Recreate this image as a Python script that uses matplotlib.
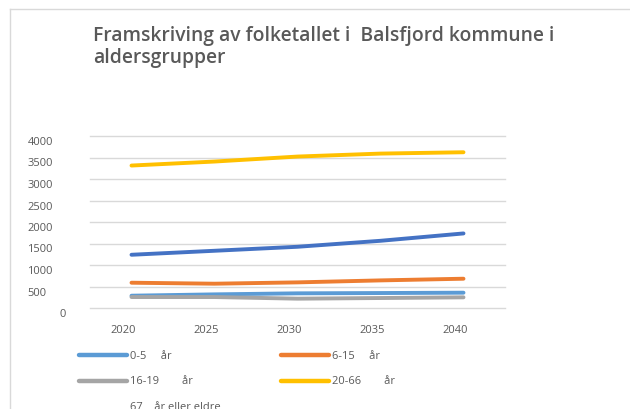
import matplotlib
matplotlib.use("Agg")
import matplotlib.pyplot as plt
from matplotlib.transforms import ScaledTranslation
from matplotlib.lines import Line2D

# data
years = ["2020", "2025", "2030", "2035", "2040"]
age_0_5 = [286, 317, 341, 348, 356]
age_6_15 = [588, 565, 596, 642, 681]
age_16_19 = [255, 255, 217, 232, 248]
age_20_66 = [3313, 3406, 3522, 3591, 3622]
age_67_plus = [1238, 1331, 1424, 1563, 1734]

labels = ["0-5     år", "6-15     år", "16-19        år", "20-66        år", "67    år eller eldre"]
colors = ["#5B9BD5", "#ED7D31", "#A5A5A5", "#FFC000", "#4472C4"]
series = [age_0_5, age_6_15, age_16_19, age_20_66, age_67_plus]

txt = "#595959"
plt.rcParams['font.family'] = ['Open Sans', 'DejaVu Sans']

fig = plt.figure(figsize=(6.3, 4.09), dpi=100)
ax = fig.add_axes([90/630, 1-308/409, 415/630, 172/409])

x = range(len(years))
for vals, c in zip(series, colors):
    ax.plot(x, vals, color=c, lw=2.8, solid_capstyle='round')

ax.set_xlim(-0.5, len(years)-0.5)
ax.set_ylim(0, 4000)
ax.set_yticks(range(0, 4001, 500))
ax.set_xticks(list(x))
ax.set_xticklabels(years)
ax.grid(axis='y', color='#D9D9D9', lw=1)
ax.set_axisbelow(True)
for g in ax.get_ygridlines():
    g.set_clip_on(False)
for s in ax.spines.values():
    s.set_visible(False)
ax.tick_params(length=0, colors=txt, labelsize=8)
ax.tick_params(axis='x', pad=12)
ax.tick_params(axis='y', pad=45)
for lbl in ax.get_yticklabels():
    lbl.set_horizontalalignment('left')
    dx = 32/100 if lbl.get_text() == "0" else 0
    lbl.set_transform(lbl.get_transform() + ScaledTranslation(dx, -5/100, fig.dpi_scale_trans))
# category labels sit a little left of the data points, as in the source
for lbl in ax.get_xticklabels():
    lbl.set_transform(lbl.get_transform() + ScaledTranslation(-8/100, 0, fig.dpi_scale_trans))

fig.text(93/630, 1-63/409, "Framskriving av folketallet i  Balsfjord kommune i\naldersgrupper",
         fontsize=13.9, fontweight='semibold', color=txt, ha='left', va='baseline',
         linespacing=1.15)

# legend: column-wise order, last handle not drawn (as in the source)
order = [0, 2, 4, 1, 3]
handles = [Line2D([], [], color=colors[i], lw=3.2, solid_capstyle='round') for i in order]
handles[2].set_alpha(0)
leg = fig.legend(handles, [labels[i] for i in order], ncol=2, loc='upper left',
                 bbox_to_anchor=(69/630, 1-341/409), frameon=False, fontsize=8,
                 handlelength=4.3, handletextpad=0.3, columnspacing=5.4,
                 labelspacing=1.3, labelcolor=txt)

# chart frame (left and top edges)
fig.add_artist(Line2D([10/630, 10/630], [0, 1-9/409], color='#D9D9D9', lw=1))
fig.add_artist(Line2D([10/630, 1], [1-9/409, 1-9/409], color='#D9D9D9', lw=1))

fig.savefig("out.png", dpi=100)
